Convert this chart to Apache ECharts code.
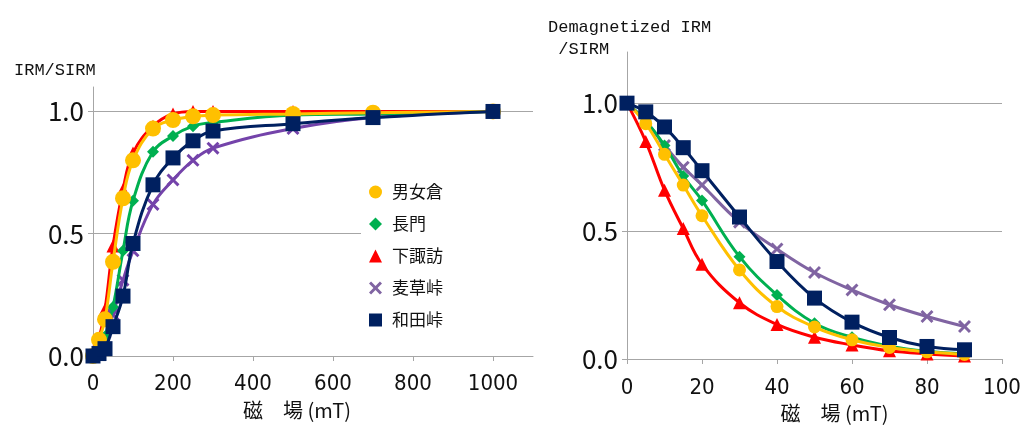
<!DOCTYPE html>
<html>
<head>
<meta charset="utf-8">
<script src="https://cdn.jsdelivr.net/npm/echarts@6/dist/echarts.min.js"></script>
<style>
html,body{margin:0;padding:0;background:#fff;}
#c{width:1025px;height:433px;}
</style>
</head>
<body>
<div id="c"></div>
<script>
// ---- data ----
const seriesNames = ['男女倉', '長門', '下諏訪', '麦草峠', '和田峠'];

// Left chart: IRM acquisition (field mT -> IRM/SIRM)
const fieldL = [0, 15, 30, 50, 75, 100, 150, 200, 250, 300, 500, 700, 1000];
const onnaguraL = [0, 0.066, 0.15, 0.385, 0.645, 0.80, 0.93, 0.965, 0.98, 0.985, 0.99, 0.995, 1.0];
const nagatoL   = [0, 0.03, 0.08, 0.20, 0.43, 0.635, 0.835, 0.90, 0.94, 0.955, 0.985, 0.99, 1.0];
const shimosuwaL= [0, 0.07, 0.19, 0.45, 0.68, 0.83, 0.94, 0.99, 1.0, 1.0, 1.0, 1.0, 1.0];
const mugikusaL = [0, 0.02, 0.06, 0.17, 0.31, 0.43, 0.62, 0.72, 0.80, 0.85, 0.93, 0.975, 1.0];
const wadaL     = [0, 0.01, 0.03, 0.12, 0.245, 0.46, 0.70, 0.81, 0.88, 0.92, 0.95, 0.975, 1.0];

// Right chart: AF demagnetization (field mT -> demagnetized IRM/SIRM)
const fieldR = [0, 5, 10, 15, 20, 30, 40, 50, 60, 70, 80, 90];
const onnaguraR = [1.0, 0.92, 0.80, 0.68, 0.56, 0.348, 0.205, 0.125, 0.075, 0.045, 0.028, 0.018];
const nagatoR   = [1.0, 0.93, 0.835, 0.715, 0.62, 0.40, 0.25, 0.14, 0.085, 0.05, 0.03, 0.02];
const shimosuwaR= [1.0, 0.85, 0.66, 0.51, 0.37, 0.22, 0.135, 0.085, 0.055, 0.032, 0.02, 0.012];
const mugikusaR = [1.0, 0.93, 0.835, 0.75, 0.68, 0.535, 0.43, 0.338, 0.27, 0.212, 0.166, 0.127];
const wadaR     = [1.0, 0.966, 0.907, 0.826, 0.736, 0.555, 0.381, 0.238, 0.144, 0.084, 0.049, 0.036];

const xTicksL = [0, 200, 400, 600, 800, 1000];
const yTicks = [0, 0.5, 1.0];

// ---- styling ----
const colors = {
  '男女倉': '#FFC000',
  '長門': '#00B050',
  '下諏訪': '#FF0000',
  '麦草峠': '#8064A2',
  '和田峠': '#002060'
};
const lineColorsL = Object.assign({}, colors, {'麦草峠': '#7443AA'});
const xPath = 'path://M0,1.6L1.6,0L5,3.4L8.4,0L10,1.6L6.6,5L10,8.4L8.4,10L5,6.6L1.6,10L0,8.4L3.4,5Z';
const symbols = {
  '男女倉': 'circle', '長門': 'diamond', '下諏訪': 'triangle', '麦草峠': xPath, '和田峠': 'rect'
};
const sizesL = {'男女倉': 16, '長門': 12, '下諏訪': 13, '麦草峠': 13, '和田峠': 15};
const sizesR = {'男女倉': 13, '長門': 12, '下諏訪': 13, '麦草峠': 13, '和田峠': 15};
const zOrder = {'下諏訪': 1, '麦草峠': 2, '長門': 3, '男女倉': 4, '和田峠': 5};

const dataL = {'男女倉': onnaguraL, '長門': nagatoL, '下諏訪': shimosuwaL, '麦草峠': mugikusaL, '和田峠': wadaL};
const dataR = {'男女倉': onnaguraR, '長門': nagatoR, '下諏訪': shimosuwaR, '麦草峠': mugikusaR, '和田峠': wadaR};

const zip = (xs, ys) => xs.map((x, i) => [x, ys[i]]);

function makeSeries(name, xs, ys, idx, lineColors, sizes) {
  return {
    name: name,
    type: 'line',
    xAxisIndex: idx, yAxisIndex: idx,
    data: zip(xs, ys),
    smooth: 0.4,
    symbol: symbols[name],
    symbolSize: sizes[name],
    z: 2 + zOrder[name],
    lineStyle: {color: lineColors[name], width: 3},
    itemStyle: {color: idx === 0 ? lineColors[name] : colors[name], opacity: 1},
    emphasis: {disabled: true},
    animation: false
  };
}

const series = [];
const order = ['下諏訪', '麦草峠', '長門', '男女倉', '和田峠'];
order.forEach(n => series.push(makeSeries(n, fieldL, dataL[n], 0, lineColorsL, sizesL)));
order.forEach(n => series.push(makeSeries(n, fieldR, dataR[n], 1, colors, sizesR)));

const axisGrey = '#A6A6A6';
const numFont = "'Noto Sans CJK JP', sans-serif";
const xNumFont = "'Liberation Sans Narrow', 'DejaVu Sans Condensed', 'Liberation Sans', sans-serif";
const monoFont = "'Liberation Mono', 'DejaVu Sans Mono', monospace";

const yAxisCommon = {
  type: 'value', min: 0,
  axisLine: {show: true, lineStyle: {color: axisGrey, width: 1}},
  axisTick: {show: true, length: 5, lineStyle: {color: axisGrey}, customValues: yTicks},
  splitLine: {show: true, lineStyle: {color: axisGrey, width: 1}},
  axisLabel: {customValues: yTicks, formatter: v => v.toFixed(1), fontFamily: numFont, fontSize: 26, color: '#111', margin: 9}
};

const option = {
  backgroundColor: '#fff',
  animation: false,
  title: [
    {text: 'IRM/SIRM', left: 9, top: 57, textStyle: {fontFamily: monoFont, fontSize: 17, fontWeight: 'normal', color: '#111'}},
    {text: 'Demagnetized IRM\n /SIRM', left: 543, top: 11, textStyle: {fontFamily: monoFont, fontSize: 17, fontWeight: 'normal', color: '#111', lineHeight: 22}}
  ],
  grid: [
    {left: 93, right: 492, top: 87, bottom: 77},
    {left: 627, right: 23, top: 52, bottom: 74}
  ],
  legend: {
    data: seriesNames.map(n => ({name: n, icon: symbols[n], itemStyle: {color: colors[n]}})),
    orient: 'vertical',
    left: 361, top: 176,
    itemWidth: 13, itemHeight: 13,
    itemGap: 12,
    padding: [6, 90, 6, 8],
    backgroundColor: '#fff',
    selectedMode: false,
    textStyle: {fontFamily: "'Noto Sans CJK JP', sans-serif", fontSize: 17, color: '#111', lineHeight: 20, padding: [0, 0, 0, 5]}
  },
  xAxis: [
    {
      gridIndex: 0, type: 'value', min: 0, max: 1100,
      axisLine: {show: true, onZero: false, lineStyle: {color: axisGrey}},
      axisTick: {show: true, length: 5, lineStyle: {color: axisGrey}, customValues: xTicksL},
      splitLine: {show: false},
      axisLabel: {customValues: xTicksL, formatter: v => String(v), fontFamily: xNumFont, fontSize: 22, color: '#111', margin: 17},
      name: '磁\u3000場 (mT)', nameLocation: 'middle', nameGap: 44,
      nameTextStyle: {fontFamily: "'Noto Sans CJK JP', sans-serif", fontSize: 20, color: '#111', padding: [0, 32, 0, 0]}
    },
    {
      gridIndex: 1, type: 'value', min: 0, max: 100, interval: 20,
      axisLine: {show: true, onZero: false, lineStyle: {color: axisGrey}},
      axisTick: {show: true, length: 5, lineStyle: {color: axisGrey}},
      splitLine: {show: false},
      axisLabel: {formatter: v => String(v), fontFamily: xNumFont, fontSize: 22, color: '#111', margin: 18},
      name: '磁\u3000場 (mT)', nameLocation: 'middle', nameGap: 44,
      nameTextStyle: {fontFamily: "'Noto Sans CJK JP', sans-serif", fontSize: 20, color: '#111', padding: [0, 0, 0, 40]}
    }
  ],
  yAxis: [
    Object.assign({}, yAxisCommon, {gridIndex: 0, max: 1.1}),
    Object.assign({}, yAxisCommon, {gridIndex: 1, max: 1.2})
  ],
  series: series
};

const chart = echarts.init(document.getElementById('c'), null, {renderer: 'canvas'});
chart.setOption(option);
</script>
</body>
</html>
